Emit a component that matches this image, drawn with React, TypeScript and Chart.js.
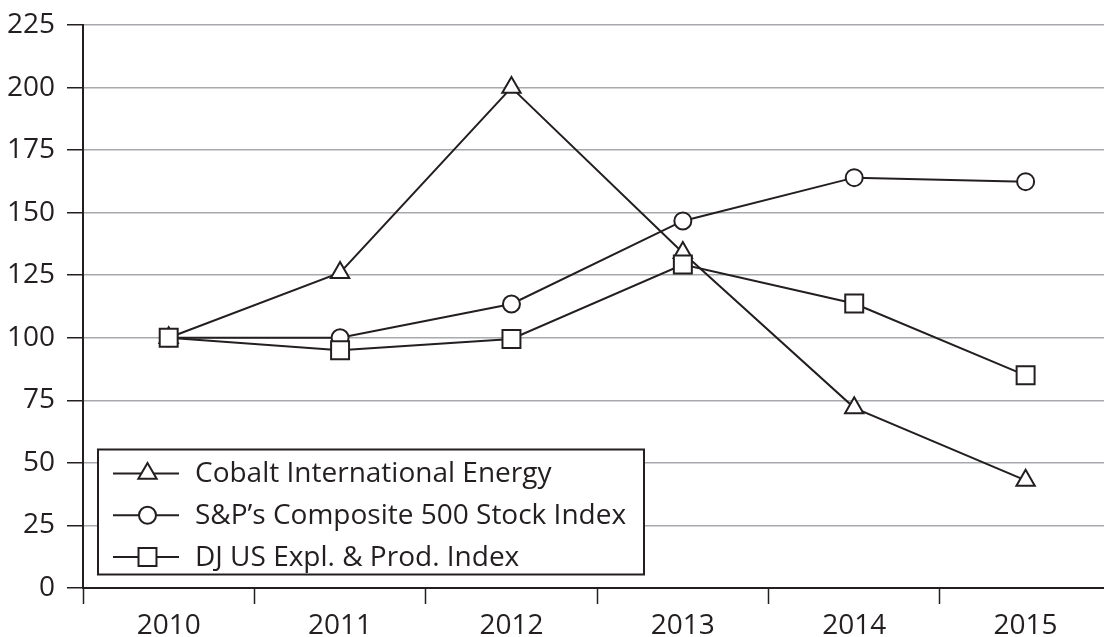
import React, { useEffect, useRef } from "react";
import { Chart, registerables } from "chart.js";
import { drawPoint } from "chart.js/helpers";

Chart.register(...registerables);

const years = ["2010", "2011", "2012", "2013", "2014", "2015"];
const cobalt = [100, 126, 200, 134, 72, 43];
const sp500 = [100, 100, 113.5, 146.7, 164, 162.4];
const djExpl = [100, 95, 99.5, 129.3, 113.7, 85];
const seriesLabels = [
  "Cobalt International Energy",
  "S&P’s Composite 500 Stock Index",
  "DJ US Expl. & Prod. Index",
];
const yTickStep = 25;
const yMin = 0;
const yMax = 225;

const DARK = "#231f20";
const GRID = "#a7a9ac";
const FONT_FAMILY = "'Open Sans', sans-serif";
const FONT_SIZE = 28;
const CANVAS_W = 1126;
const CANVAS_H = 637;

const boxLegend = {
  id: "boxLegend",
  afterDraw(chart: any) {
    const ctx = chart.ctx;
    const area = chart.chartArea;
    const x0 = area.left + 15;
    const w = 546;
    const h = 125;
    const y0 = area.bottom - 13.5 - h;
    ctx.save();
    ctx.fillStyle = "#fff";
    ctx.fillRect(x0, y0, w, h);
    ctx.strokeStyle = DARK;
    ctx.lineWidth = 2;
    ctx.strokeRect(x0, y0, w, h);
    ctx.font = `${FONT_SIZE}px ${FONT_FAMILY}`;
    ctx.textBaseline = "middle";
    ctx.textAlign = "left";
    chart.data.datasets.forEach((ds: any, i: number) => {
      const cy = y0 + 24 + i * 41.7;
      ctx.strokeStyle = DARK;
      ctx.lineWidth = 2;
      ctx.beginPath();
      ctx.moveTo(x0 + 15, cy);
      ctx.lineTo(x0 + 81, cy);
      ctx.stroke();
      ctx.fillStyle = "#fff";
      ctx.strokeStyle = DARK;
      ctx.lineWidth = 2;
      drawPoint(
        ctx,
        { pointStyle: ds.pointStyle, radius: ds.pointRadius, borderWidth: 2, rotation: 0 } as any,
        x0 + 49.5,
        cy
      );
      ctx.fillStyle = DARK;
      ctx.fillText(ds.label, x0 + 97, cy + 1);
    });
    ctx.restore();
  },
};

export default function App() {
  const ref = useRef<HTMLCanvasElement | null>(null);
  useEffect(() => {
    if (!ref.current) return;
    const mk = (label: string, data: number[], style: string, r: number, order: number) => ({
      label,
      data,
      order,
      borderColor: DARK,
      borderWidth: 2,
      backgroundColor: "#fff",
      pointStyle: style,
      pointRadius: r,
      pointHoverRadius: r,
      pointBorderWidth: 2,
      pointBorderColor: DARK,
      pointBackgroundColor: "#fff",
      tension: 0,
    });
    const chart = new Chart(ref.current, {
      type: "line",
      data: {
        labels: years,
        datasets: [
          mk(seriesLabels[0], cobalt, "triangle", 10.6, 2),
          mk(seriesLabels[1], sp500, "circle", 8.5, 1),
          mk(seriesLabels[2], djExpl, "rect", 12.7, 0),
        ],
      },
      options: {
        animation: false,
        responsive: false,
        layout: { padding: { top: 25, right: 1, left: 0, bottom: 0 } },
        plugins: { legend: { display: false }, tooltip: { enabled: false } },
        scales: {
          x: {
            type: "category",
            offset: true,
            grid: {
              display: true,
              offset: true,
              drawOnChartArea: false,
              drawTicks: true,
              tickLength: 16,
              tickColor: DARK,
              tickWidth: 1.5,
            },
            border: { display: true, color: DARK, width: 2 },
            ticks: {
              color: DARK,
              font: { family: FONT_FAMILY, size: FONT_SIZE },
              padding: 5,
              maxRotation: 0,
            },
            afterFit: (s: any) => {
              s.height = 49;
              s.paddingLeft = 0;
              s.paddingRight = 0;
            },
          },
          y: {
            min: yMin,
            max: yMax,
            grid: {
              color: GRID,
              lineWidth: 1.5,
              drawTicks: true,
              tickLength: 16,
              tickColor: DARK,
              tickWidth: 1.5,
            },
            border: { display: true, color: DARK, width: 2 },
            ticks: {
              stepSize: yTickStep,
              color: DARK,
              font: { family: FONT_FAMILY, size: FONT_SIZE },
              padding: 12,
            },
            afterFit: (s: any) => {
              s.width = 83;
              s.paddingTop = 0;
              s.paddingBottom = 0;
            },
          },
        },
      },
      plugins: [boxLegend],
    });
    return () => chart.destroy();
  }, []);
  return (
    <div
      style={{
        position: "fixed",
        left: 0,
        top: 0,
        width: 1104,
        height: 637,
        overflow: "hidden",
        background: "#fff",
      }}
    >
      <canvas
        ref={ref}
        width={CANVAS_W}
        height={CANVAS_H}
        style={{ display: "block", width: CANVAS_W, height: CANVAS_H }}
      />
    </div>
  );
}
